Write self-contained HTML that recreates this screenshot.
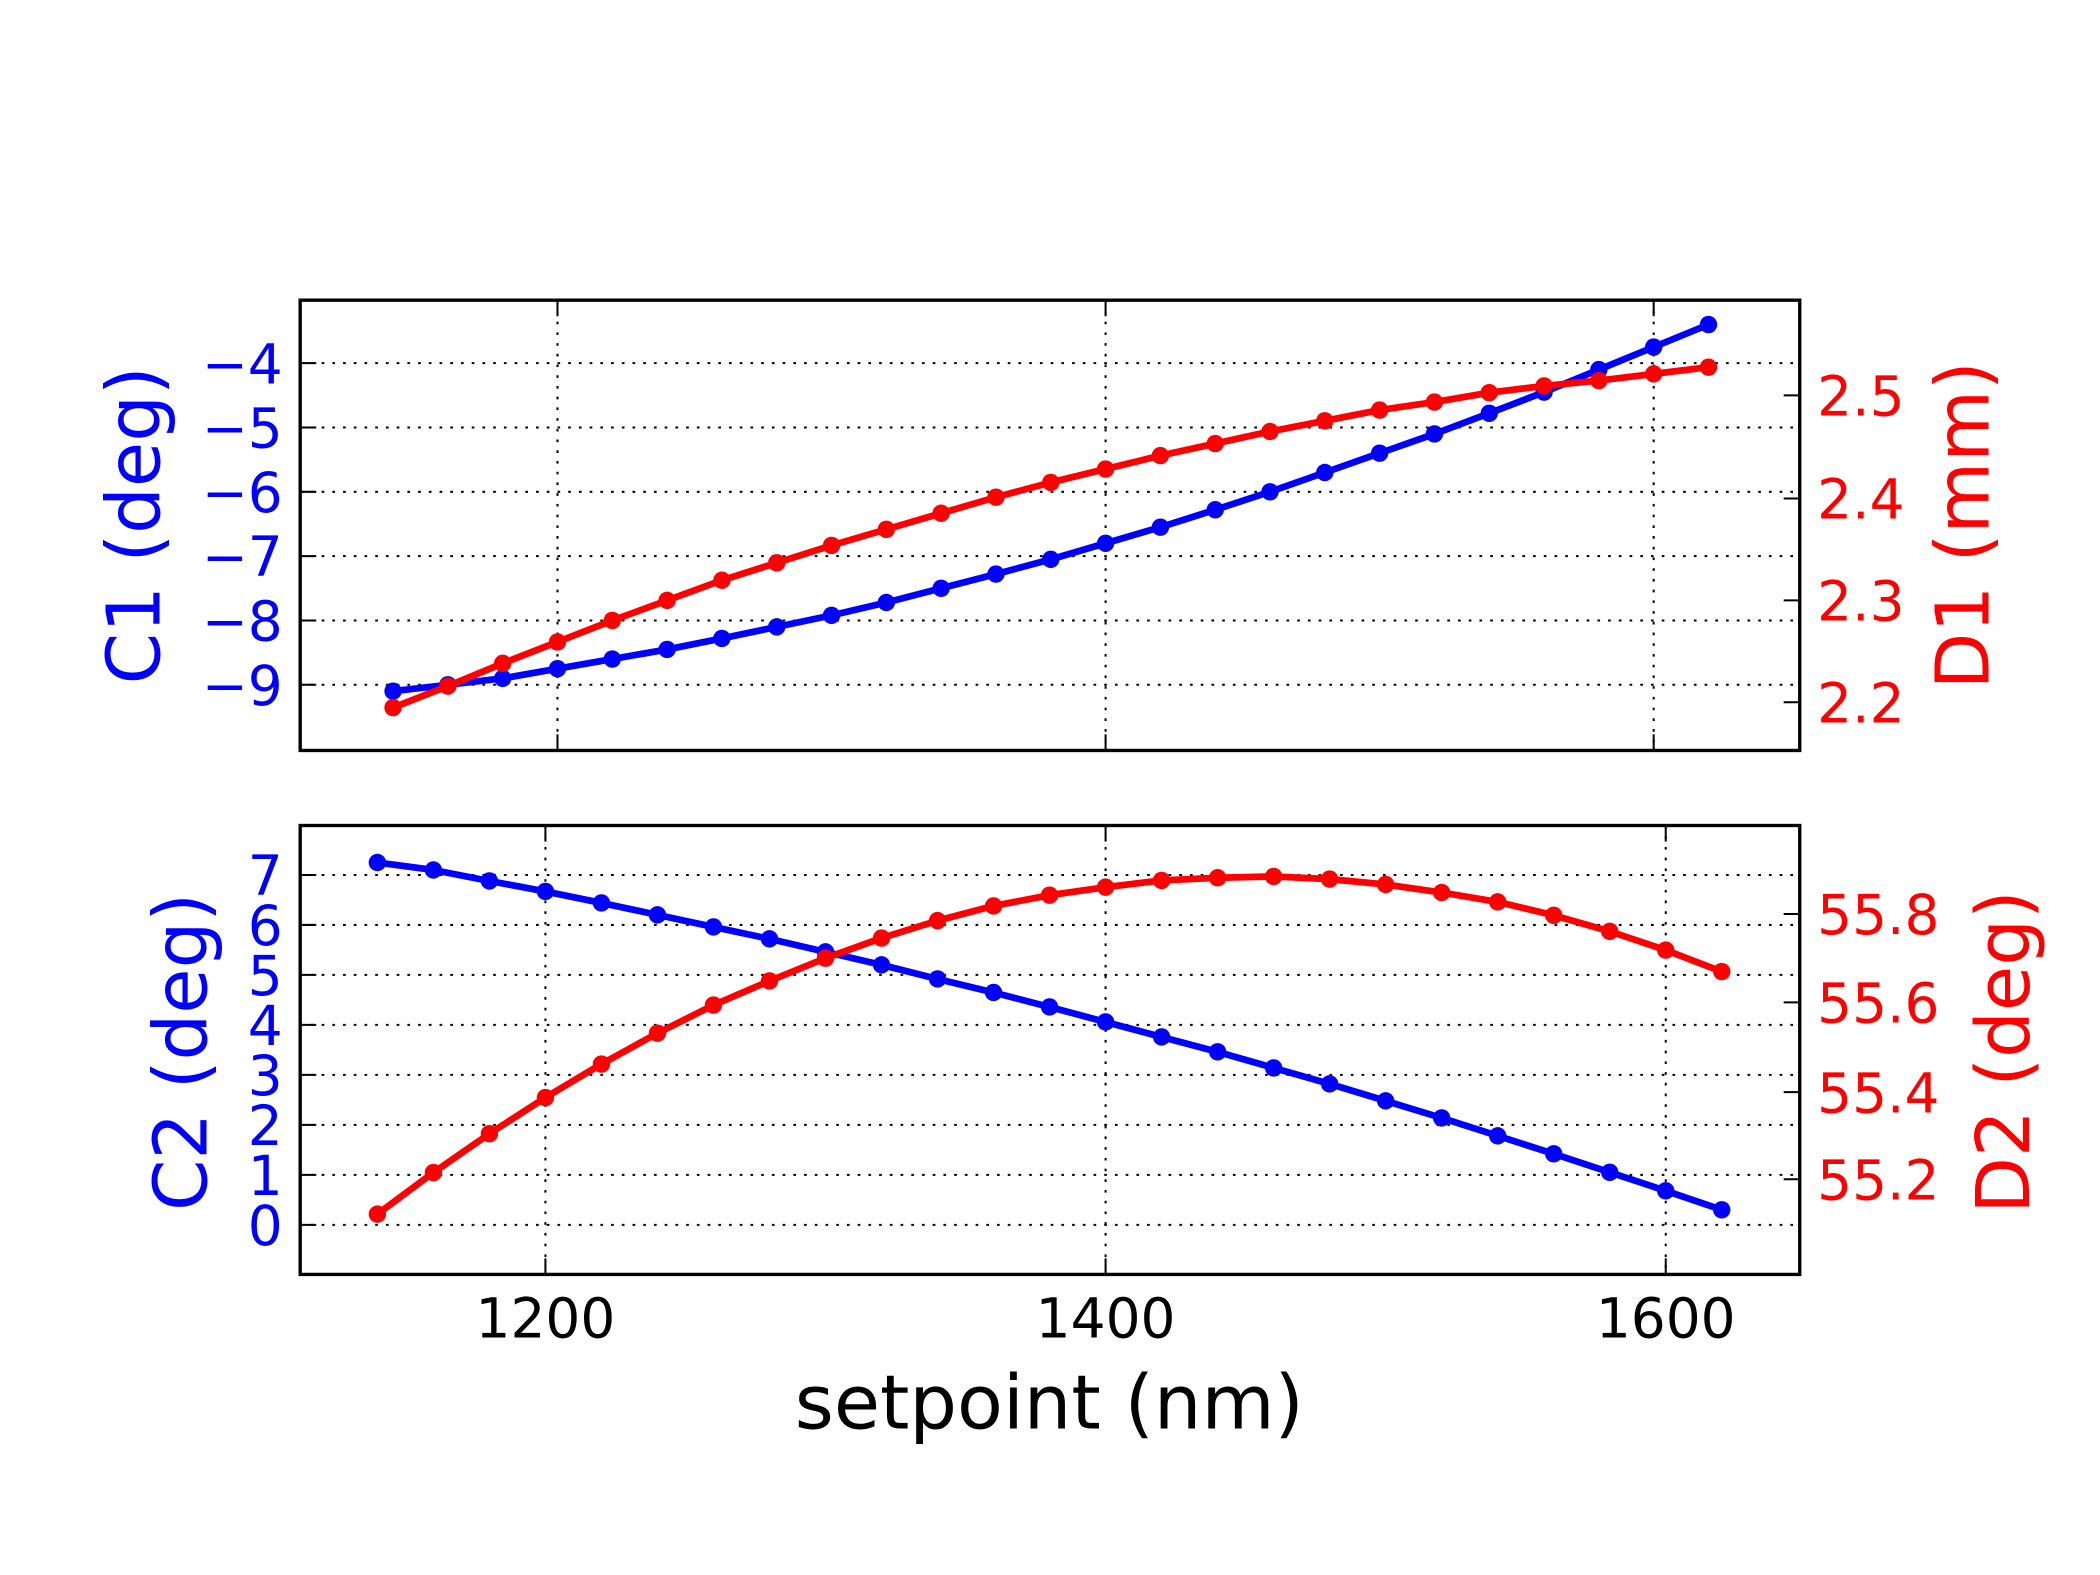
<!DOCTYPE html>
<html><head><meta charset="utf-8"><style>
html,body{margin:0;padding:0;background:#fff}
svg{display:block}
text{font-family:"DejaVu Sans","Liberation Sans",sans-serif}
</style></head><body>
<svg id="s" width="2100" height="1575" viewBox="0 0 1560 1170" xmlns="http://www.w3.org/2000/svg">
<rect width="1560" height="1170" fill="#fff"/>
<g id="g" transform="scale(0.9955)"></g>
</svg>
<script>
var g=document.getElementById('g'),h='';
var xs=[];for(var i=0;i<25;i++)xs.push(1140+20*i);
function X1(x){return 825+(x-1400)*409/200}
function X2(x){return 825+(x-1400)*418/200}
var L=224,R=1343,T1=224,B1=560,T2=616,B2=951;
function grid(x1,x2,ys,xs_,t,b){
 ys.forEach(function(y){h+='<line x1="'+x1+'" x2="'+x2+'" y1="'+y+'" y2="'+y+'" stroke="#000" stroke-width="1.5" stroke-dasharray="2,6"/>'});
 xs_.forEach(function(x){h+='<line x1="'+x+'" x2="'+x+'" y1="'+t+'" y2="'+b+'" stroke="#000" stroke-width="1.5" stroke-dasharray="2,6"/>'});
}
var c1=[-9.1,-9.0,-8.9,-8.75,-8.6,-8.45,-8.28,-8.1,-7.92,-7.72,-7.5,-7.28,-7.05,-6.8,-6.55,-6.28,-6.0,-5.7,-5.4,-5.1,-4.78,-4.45,-4.1,-3.75,-3.4];
var d1=[528,512,495,479,463,448,433,420,407,395,383,371,360,350,340,331,322,314,306,300,293,288,284,279,274];
var c2=[7.25,7.1,6.88,6.67,6.44,6.2,5.96,5.72,5.46,5.2,4.92,4.65,4.36,4.06,3.76,3.46,3.14,2.82,2.48,2.14,1.78,1.42,1.05,0.68,0.3];
var d2=[906,875,846,819,794,771,750,732,715,700,687,676,668,662,657,655,654,656,660,666,673,683,695,709,725];
var yC1=function(v){return 271+(-4-v)*48};
var yC2=function(v){return 914-v*37.3};
var ly1=[];for(i=-4;i>=-9;i--)ly1.push(yC1(i));
grid(L,R,ly1,[X1(1200),X1(1400),X1(1600)],T1,B1);
var ly2=[];for(i=0;i<=7;i++)ly2.push(yC2(i));
grid(L,R,ly2,[X2(1200),X2(1400),X2(1600)],T2,B2);
function series(px,py,col){
 var p=px.map(function(x,k){return x.toFixed(1)+','+py[k].toFixed(1)}).join(' ');
 h+='<polyline points="'+p+'" fill="none" stroke="'+col+'" stroke-width="5" stroke-linejoin="round"/>';
 px.forEach(function(x,k){h+='<circle cx="'+x.toFixed(1)+'" cy="'+py[k].toFixed(1)+'" r="6.5" fill="'+col+'"/>'});
}
series(xs.map(X1),c1.map(yC1),'#0000ff');
series(xs.map(X1),d1,'#ff0000');
series(xs.map(X2),c2.map(yC2),'#0000ff');
series(xs.map(X2),d2,'#ff0000');
h+='<rect x="'+L+'" y="'+T1+'" width="'+(R-L)+'" height="'+(B1-T1)+'" fill="none" stroke="#000" stroke-width="2.5"/>';
h+='<rect x="'+L+'" y="'+T2+'" width="'+(R-L)+'" height="'+(B2-T2)+'" fill="none" stroke="#000" stroke-width="2.5"/>';
function tick(x1,y1,x2,y2){h+='<line x1="'+x1+'" y1="'+y1+'" x2="'+x2+'" y2="'+y2+'" stroke="#000" stroke-width="1.5"/>'}
var FS=41;
for(i=-4;i>=-9;i--){var y=yC1(i);tick(L,y,L+12,y);
 h+='<text x="211" y="'+(y+15)+'" font-size="'+FS+'" fill="#0000ff" text-anchor="end">\u2212'+(-i)+'</text>';}
[[2.5,295],[2.4,372],[2.3,448],[2.2,524]].forEach(function(a){tick(R,a[1],R-12,a[1]);
 h+='<text x="1356" y="'+(a[1]+15)+'" font-size="'+FS+'" fill="#ff0000">'+a[0].toFixed(1)+'</text>';});
[1200,1400,1600].forEach(function(v){var x=X1(v);tick(x,T1,x,T1+12);tick(x,B1,x,B1-12);
 var x2=X2(v);tick(x2,T2,x2,T2+12);tick(x2,B2,x2,B2-12);
 h+='<text x="'+x2+'" y="'+(B2+47)+'" font-size="'+FS+'" fill="#000" text-anchor="middle">'+v+'</text>';});
for(i=0;i<=7;i++){var y=yC2(i);tick(L,y,L+12,y);
 h+='<text x="211" y="'+(y+15)+'" font-size="'+FS+'" fill="#0000ff" text-anchor="end">'+i+'</text>';}
[[55.8,682],[55.6,748],[55.4,815],[55.2,880]].forEach(function(a){tick(R,a[1],R-12,a[1]);
 h+='<text x="1356" y="'+(a[1]+15)+'" font-size="'+FS+'" fill="#ff0000">'+a[0].toFixed(1)+'</text>';});
h+='<text transform="translate(119,392) rotate(-90)" font-size="55" fill="#0000ff" text-anchor="middle">C1 (deg)</text>';
h+='<text transform="translate(154,785) rotate(-90)" font-size="55" fill="#0000ff" text-anchor="middle">C2 (deg)</text>';
h+='<text transform="translate(1484,392) rotate(-90)" font-size="55" fill="#ff0000" text-anchor="middle">D1 (mm)</text>';
h+='<text transform="translate(1514,785) rotate(-90)" font-size="55" fill="#ff0000" text-anchor="middle">D2 (deg)</text>';
h+='<text x="783" y="1066" font-size="56" fill="#000" text-anchor="middle">setpoint (nm)</text>';
g.innerHTML=h;
</script>
</body></html>
